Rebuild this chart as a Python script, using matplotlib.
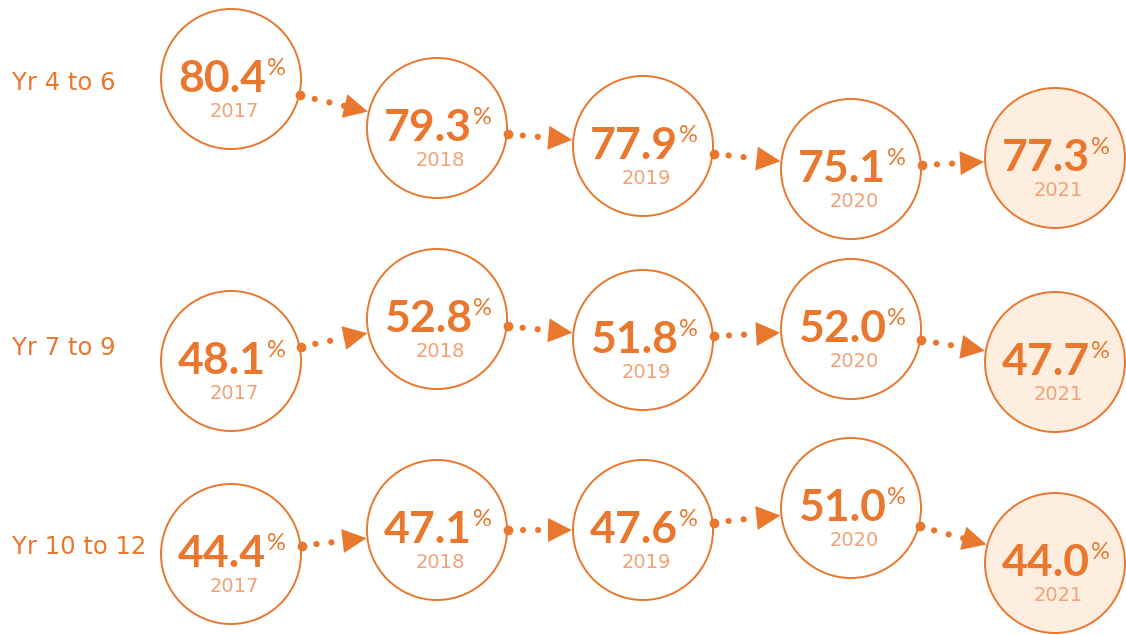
import numpy as np
import matplotlib
matplotlib.use('Agg')
import matplotlib.pyplot as plt
from matplotlib.patches import Circle, Polygon

# data
groups = ['Yr 4 to 6', 'Yr 7 to 9', 'Yr 10 to 12']
years = ['2017', '2018', '2019', '2020', '2021']
yr4_6 = [80.4, 79.3, 77.9, 75.1, 77.3]
yr7_9 = [48.1, 52.8, 51.8, 52.0, 47.7]
yr10_12 = [44.4, 47.1, 47.6, 51.0, 44.0]
values = [yr4_6, yr7_9, yr10_12]

# layout (pixel space of the 1126x635 canvas)
col_x = [231, 437, 643, 851, 1055]
row_y = [[79, 128, 146, 169, 158],
         [361, 319, 340, 329, 362],
         [554, 530, 530, 508, 563]]
label_base = [90, 355, 554]
R = 70

orange = '#e9772d'
light = '#f2a276'
fill_hi = '#fdeedf'

fig = plt.figure(figsize=(11.26, 6.35), dpi=100)
ax = fig.add_axes([0, 0, 1, 1])
ax.set_xlim(0, 1126)
ax.set_ylim(635, 0)
ax.axis('off')

for r, vals in enumerate(values):
    ax.text(12, label_base[r], groups[r], fontsize=17.5, color=orange,
            ha='left', va='baseline', family='DejaVu Sans')
    for i, v in enumerate(vals):
        cx, cy = col_x[i], row_y[r][i]
        fc = fill_hi if i == len(vals) - 1 else 'white'
        ax.add_patch(Circle((cx, cy), R, facecolor=fc, edgecolor=orange,
                            lw=1.4, zorder=2))
        t = ax.text(cx - 9, cy + 13, '%.1f' % v, fontsize=32, fontweight='bold',
                    family='Lato', color=orange, ha='center', va='baseline',
                    zorder=3)
        ax.annotate('%', xy=(1, 1), xycoords=t, xytext=(1, 1),
                    textcoords='offset points', fontsize=17, family='Lato',
                    color=orange, ha='left', va='top', zorder=3)
        ax.text(cx + 3, cy + 38, years[i], fontsize=14, color=light,
                family='DejaVu Sans',
                ha='center', va='baseline', zorder=3)

        # dotted arrow to next circle
        if i < len(vals) - 1:
            nx, ny = col_x[i + 1], row_y[r][i + 1]
            d = np.array([nx - cx, ny - cy], dtype=float)
            u = d / np.hypot(*d)
            p = np.array([-u[1], u[0]])
            start = np.array([cx, cy]) + (R + 1) * u
            tip = np.array([nx, ny]) - (R + 1) * u
            base = tip - 24 * u
            ax.plot([start[0], base[0]], [start[1], base[1]], color=orange,
                    lw=4.5, linestyle=(0, (0.01, 2.4)), dash_capstyle='round',
                    zorder=1)
            ax.plot(start[0], start[1], 'o', color=orange, ms=6, zorder=3)
            head = [tip, base + 12 * p, base - 12 * p]
            ax.add_patch(Polygon(head, closed=True, facecolor=orange,
                                 edgecolor='none', zorder=3))

plt.savefig('out.png', dpi=100)
plt.close()
